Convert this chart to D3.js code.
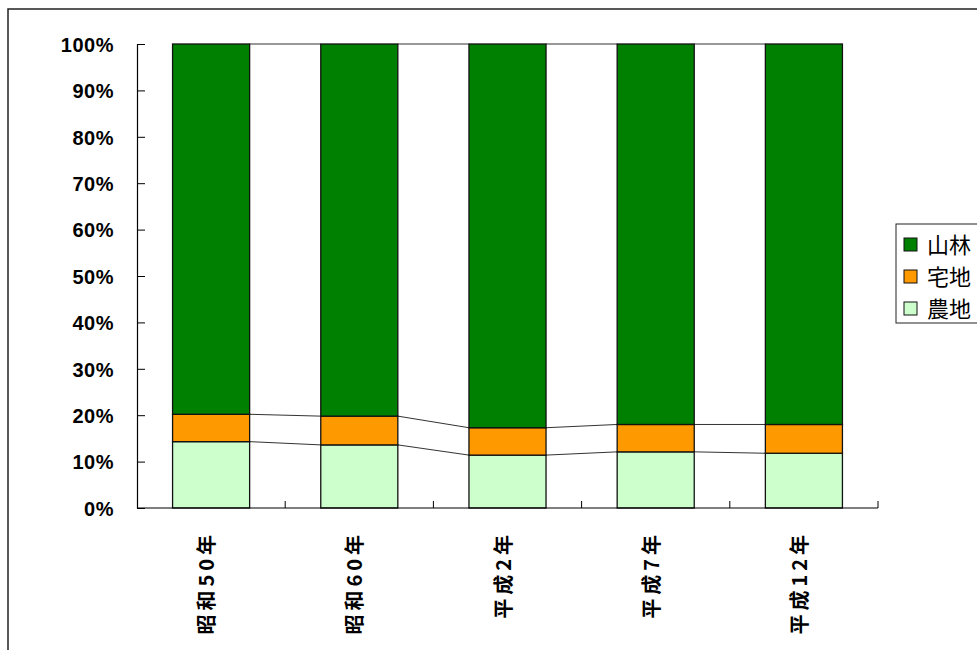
<!DOCTYPE html>
<html>
<head>
<meta charset="utf-8">
<script src="https://cdn.jsdelivr.net/npm/d3@7"></script>
<style>
  body { margin: 0; background: #fff; }
  svg { display: block; }
</style>
</head>
<body>
<script>
// data (percent shares)
var categories = ['昭和50年', '昭和60年', '平成2年', '平成7年', '平成12年'];
var nouchi = [14.3, 13.6, 11.4, 12.1, 11.8];   // 農地
var takuchi = [5.9, 6.2, 5.9, 5.9, 6.2];       // 宅地
var sanrin = [79.8, 80.2, 82.7, 82.0, 82.0];   // 山林
var yTicks = [0, 10, 20, 30, 40, 50, 60, 70, 80, 90, 100];

var keys = ['農地', '宅地', '山林'];
var colors = { '農地': '#ccffcc', '宅地': '#ff9900', '山林': '#008000' };
var legendOrder = ['山林', '宅地', '農地'];

var W = 977, H = 650;
var plot = { left: 137, right: 878, top: 44, bottom: 508 };

var rows = categories.map(function(c, i){
  return { cat: c, '農地': nouchi[i], '宅地': takuchi[i], '山林': sanrin[i] };
});

var svg = d3.select('body').append('svg')
  .attr('width', W).attr('height', H);

// outer chart border (runs off the right and bottom edges)
svg.append('rect')
  .attr('x', 8).attr('y', 9)
  .attr('width', W + 20).attr('height', H + 20)
  .attr('fill', 'none').attr('stroke', '#222').attr('stroke-width', 1.5);

var x = d3.scaleBand().domain(categories)
  .range([plot.left, plot.right])
  .paddingInner(0.48).paddingOuter(0.24);
var xCell = d3.scaleBand().domain(categories)
  .range([plot.left, plot.right]).padding(0);
var y = d3.scaleLinear().domain([0, 100]).range([plot.bottom, plot.top]);

var stacked = d3.stack().keys(keys)(rows);

// series lines between bars
stacked.forEach(function(layer){
  for (var i = 0; i < layer.length - 1; i++) {
    svg.append('line')
      .attr('x1', x(categories[i]) + x.bandwidth())
      .attr('x2', x(categories[i + 1]))
      .attr('y1', y(layer[i][1]))
      .attr('y2', y(layer[i + 1][1]))
      .attr('stroke', '#333').attr('stroke-width', 1);
  }
});

// bars
svg.append('g').selectAll('g')
  .data(stacked)
  .enter().append('g')
    .attr('fill', function(d){ return colors[d.key]; })
  .selectAll('rect')
  .data(function(d){ return d; })
  .enter().append('rect')
    .attr('x', function(d){ return x(d.data.cat); })
    .attr('y', function(d){ return y(d[1]); })
    .attr('width', x.bandwidth())
    .attr('height', function(d){ return y(d[0]) - y(d[1]); })
    .attr('stroke', '#111').attr('stroke-width', 1.3);

// y axis (ticks pointing inward)
var yAxis = svg.append('g')
  .attr('transform', 'translate(' + plot.left + ',0)')
  .call(d3.axisRight(y).tickValues(yTicks).tickSize(8).tickSizeOuter(0)
    .tickFormat(function(d){ return d + '%'; }));
yAxis.select('.domain').attr('stroke', '#000').attr('stroke-width', 1.2);
yAxis.selectAll('.tick line').attr('stroke', '#000');
yAxis.selectAll('.tick text')
  .attr('x', -23).attr('dy', '0.36em')
  .attr('text-anchor', 'end')
  .style('font-family', '"Liberation Sans", Arial, sans-serif')
  .style('font-weight', 'bold')
  .style('font-size', '20px')
  .style('letter-spacing', '0.5px')
  .attr('fill', '#000');

// x axis line with tick marks at category boundaries
svg.append('line')
  .attr('x1', plot.left).attr('x2', plot.right)
  .attr('y1', plot.bottom).attr('y2', plot.bottom)
  .attr('stroke', '#000').attr('stroke-width', 1.2);
svg.append('g').selectAll('line')
  .data(categories)
  .enter().append('line')
    .attr('x1', function(d){ return xCell(d) + xCell.bandwidth(); })
    .attr('x2', function(d){ return xCell(d) + xCell.bandwidth(); })
    .attr('y1', plot.bottom).attr('y2', plot.bottom - 7)
    .attr('stroke', '#000').attr('stroke-width', 1);

// category labels, rotated
svg.append('g').selectAll('text')
  .data(categories)
  .enter().append('text')
    .attr('transform', function(d){
      return 'translate(' + (x(d) + x.bandwidth() / 2 - 4) + ',531) rotate(-90)';
    })
    .attr('text-anchor', 'end')
    .attr('dy', '0.35em')
    .style('font-family', '"Noto Sans CJK JP", sans-serif')
    .style('font-weight', 'bold')
    .style('font-size', '20px')
    .style('letter-spacing', '4px')
    .text(function(d){ return d; });

// legend
var legend = svg.append('g');
legend.append('rect')
  .attr('x', 896).attr('y', 224).attr('width', 100).attr('height', 99)
  .attr('fill', '#fff').attr('stroke', '#222').attr('stroke-width', 1);
var item = legend.selectAll('g.item')
  .data(legendOrder)
  .enter().append('g')
    .attr('class', 'item')
    .attr('transform', function(d, i){ return 'translate(0,' + (245 + i * 32) + ')'; });
item.append('rect')
  .attr('x', 904).attr('y', -7).attr('width', 13).attr('height', 13)
  .attr('fill', function(d){ return colors[d]; })
  .attr('stroke', '#111').attr('stroke-width', 1);
item.append('text')
  .attr('x', 927).attr('dy', '0.36em')
  .style('font-family', '"Noto Sans CJK JP", sans-serif')
  .style('font-size', '22px')
  .text(function(d){ return d; });
</script>
</body>
</html>
